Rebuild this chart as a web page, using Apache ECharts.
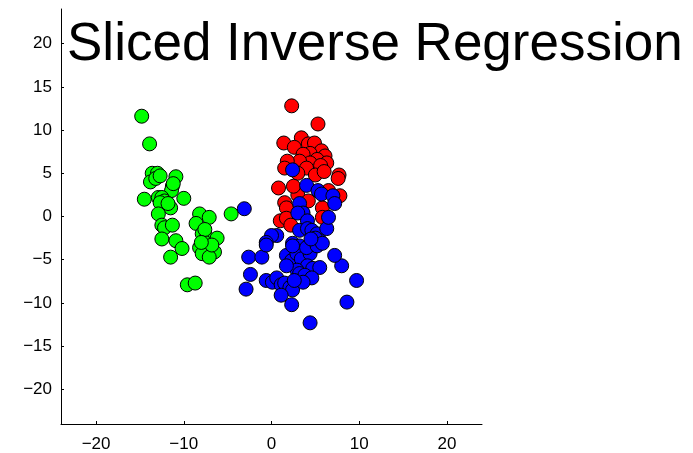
<!DOCTYPE html>
<html>
<head>
<meta charset="utf-8">
<script src="https://cdn.jsdelivr.net/npm/echarts@6/dist/echarts.min.js"></script>
<style>html,body{margin:0;padding:0;background:#fff;}#c{width:693px;height:453px;}</style>
</head>
<body>
<div id="c"></div>
<script>
const titleText = 'Sliced Inverse Regression';
const xTicks = [-20, -10, 0, 10, 20];
const yTicks = [-20, -15, -10, -5, 0, 5, 10, 15, 20];

const greenPoints = [
  [-14.8,11.6],[-13.9,8.4],[-13.6,5.0],[-13.0,5.0],[-13.8,4.0],[-13.2,4.4],[-12.7,4.7],
  [-10.9,4.6],[-11.3,3.5],[-11.4,3.0],[-11.2,3.8],[-14.5,2.0],[-12.9,2.2],[-12.5,2.2],
  [-12.2,1.8],[-12.7,1.6],[-10.0,2.1],[-11.5,1.0],[-11.8,1.5],[-12.9,0.3],[-12.5,-1.0],
  [-12.2,-1.3],[-11.3,-1.0],[-12.5,-2.6],[-10.9,-2.8],[-10.2,-3.7],[-11.5,-4.7],
  [-8.2,0.3],[-7.1,-0.1],[-8.6,-0.8],[-7.9,-2.0],[-7.4,-2.4],[-6.2,-2.5],[-7.6,-3.0],
  [-8.2,-3.6],[-7.3,-3.7],[-6.5,-4.1],[-7.9,-4.3],[-7.1,-4.7],[-7.6,-1.5],[-4.6,0.3],
  [-9.6,-7.9],[-8.7,-7.7],[-6.8,-3.3],[-8.0,-3.0]
];

const redPoints = [
  [2.3,12.8],[5.3,10.7],[1.4,8.5],[3.4,9.1],[2.6,8.0],[4.2,8.4],[4.9,8.5],[5.7,7.6],
  [6.1,7.0],[4.4,7.3],[3.6,7.2],[5.2,6.6],[6.3,6.2],[4.4,6.2],[3.2,6.4],[5.6,5.9],
  [1.8,6.4],[1.5,5.6],[4.0,5.6],[5.0,4.8],[6.0,5.2],[7.7,4.8],[0.8,3.3],[7.6,4.4],
  [7.8,2.4],[1.5,1.6],[1.7,1.0],[1.0,-0.5],[1.7,-0.2],[5.8,1.0],[5.8,-0.1],[3.0,2.5],
  [4.2,1.8],[3.5,0.5],[2.2,-1.0],[3.0,5.0],[2.5,3.5],[6.5,3.0]
];

const bluePoints = [
  [2.4,5.4],[4.0,3.6],[5.3,3.0],[5.7,2.6],[7.0,2.4],[7.2,1.5],[3.2,1.5],[3.6,0.4],
  [3.0,0.4],[4.1,-0.5],[-3.1,0.9],[3.2,-1.6],[4.1,-1.4],[4.6,-1.6],[5.2,-2.0],[6.3,-1.4],
  [5.5,-2.8],[5.0,-2.5],[0.6,-2.2],[0.0,-2.2],[-0.6,-3.0],[2.4,-3.1],[3.2,-3.4],[6.5,-0.1],
  [-2.6,-4.7],[-1.1,-4.7],[-0.6,-3.3],[-2.4,-6.7],[-2.9,-8.4],[-0.6,-7.4],[0.1,-7.6],
  [0.6,-7.1],[1.1,-7.9],[1.5,-7.7],[2.1,-8.2],[2.4,-8.5],[1.1,-9.1],[2.3,-10.2],[4.4,-12.3],
  [8.6,-9.9],[9.7,-7.4],[8.0,-5.7],[7.2,-4.5],[1.7,-4.5],[2.3,-5.1],[2.9,-4.3],[3.4,-4.9],
  [4.4,-4.3],[4.1,-5.7],[4.7,-6.0],[5.5,-5.9],[2.9,-6.2],[3.2,-6.6],[3.8,-6.8],[4.6,-7.1],
  [3.6,-7.6],[2.6,-7.4],[1.7,-5.7],[4.0,-3.6],[5.2,-3.4],[5.8,-3.1],[2.4,-3.4],[4.5,-2.6]
];

const fmt = v => (v < 0 ? '\u2212' + Math.abs(v) : String(v));
const labelStyle = { color: '#000', fontFamily: 'Liberation Sans', fontSize: 17 };

const chart = echarts.init(document.getElementById('c'), null, { renderer: 'canvas' });
const mk = (data, color) => ({
  type: 'scatter', data: data, symbol: 'circle', symbolSize: 14,
  itemStyle: { color: color, borderColor: '#000', borderWidth: 1, opacity: 1 },
  emphasis: { disabled: true }, animation: false
});
chart.setOption({
  animation: false,
  backgroundColor: '#fff',
  title: {
    text: titleText, left: 62, top: 14,
    textStyle: { color: '#000', fontFamily: 'Liberation Sans', fontSize: 53, fontWeight: 'normal' }
  },
  grid: { left: 61, right: 211, top: 9, bottom: 28, containLabel: false },
  xAxis: {
    type: 'value', min: -24, max: 24,
    splitLine: { show: false },
    axisLine: { onZero: false, lineStyle: { color: '#000', width: 1 } },
    axisTick: { inside: true, length: 3, customValues: xTicks, lineStyle: { color: '#000' } },
    axisLabel: Object.assign({ customValues: xTicks, margin: 12, formatter: fmt }, labelStyle)
  },
  yAxis: {
    type: 'value', min: -24, max: 24,
    splitLine: { show: false },
    axisLine: { onZero: false, lineStyle: { color: '#000', width: 1 } },
    axisTick: { inside: true, length: 3, customValues: yTicks, lineStyle: { color: '#000' } },
    axisLabel: Object.assign({ customValues: yTicks, margin: 9, formatter: fmt }, labelStyle)
  },
  series: [mk(greenPoints, '#00ff00'), mk(redPoints, '#ff0000'), mk(bluePoints, '#0000ff')]
});
</script>
</body>
</html>
